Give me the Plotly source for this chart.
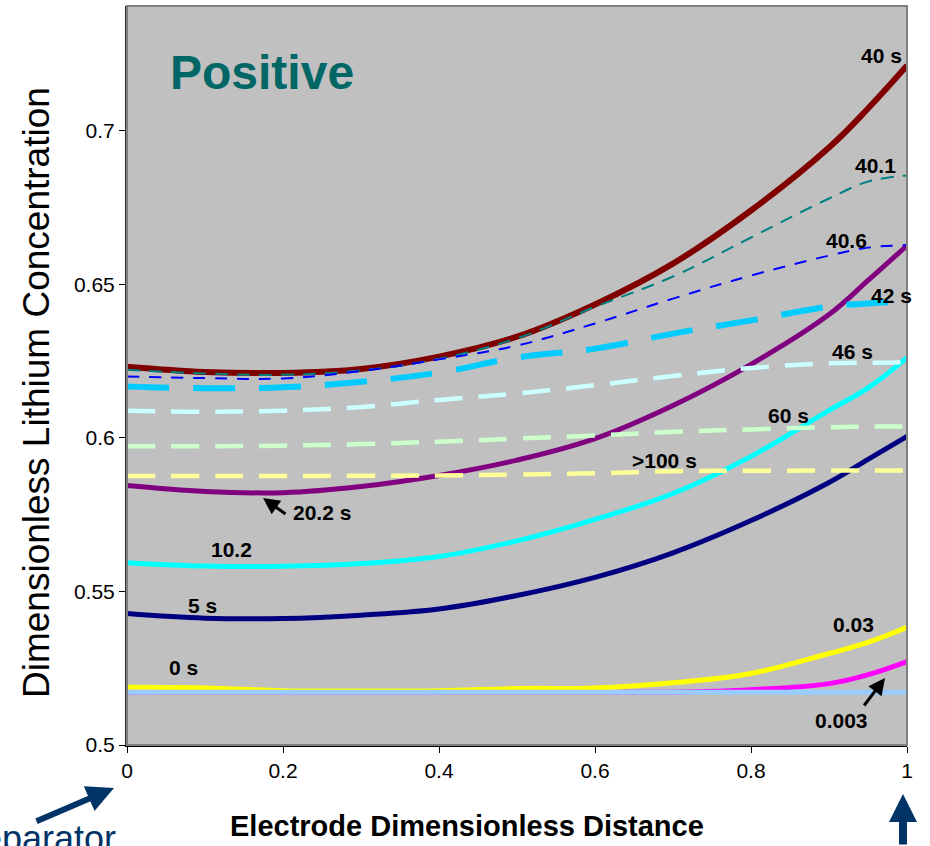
import plotly.graph_objects as go

# ---------------- data ----------------
X = [0, 0.1, 0.2, 0.3, 0.4, 0.5, 0.6, 0.7, 0.8, 0.9, 0.95, 1.0]

s0_003 = [0.5172, 0.5172, 0.5172, 0.5172, 0.5172, 0.5172, 0.5172, 0.5172, 0.5180, 0.5200, 0.5229, 0.5272]
s0_03 = [0.5188, 0.5186, 0.5177, 0.5176, 0.5177, 0.5184, 0.5186, 0.5203, 0.5233, 0.5298, 0.5334, 0.5383]
s5 = [0.5428, 0.5413, 0.5412, 0.5423, 0.5443, 0.5487, 0.5546, 0.5626, 0.5731, 0.5855, 0.5930, 0.6005]
s10_2 = [0.5594, 0.5583, 0.5582, 0.5591, 0.5614, 0.5665, 0.5735, 0.5819, 0.5940, 0.6090, 0.6163, 0.6262]
s20_2 = [0.5845, 0.5826, 0.5822, 0.5842, 0.5878, 0.5928, 0.5998, 0.6106, 0.6240, 0.6402, 0.6513, 0.6627]
s40 = [0.6232, 0.6215, 0.6212, 0.6225, 0.6265, 0.6330, 0.6435, 0.6568, 0.6741, 0.6946, 0.7073, 0.7213]
s40_1 = [0.6222, 0.6210, 0.6206, 0.6220, 0.6258, 0.6325, 0.6427, 0.6526, 0.6653, 0.6780, 0.6835, 0.6855]
s40_6 = [0.6200, 0.6195, 0.6194, 0.6218, 0.6256, 0.6301, 0.6373, 0.6454, 0.6529, 0.6594, 0.6620, 0.6628]
s42 = [0.6168, 0.6162, 0.6165, 0.6183, 0.6213, 0.6262, 0.6291, 0.6340, 0.6383, 0.6428, 0.6438, 0.6445]
s46 = [0.6089, 0.6085, 0.6089, 0.6101, 0.6124, 0.6145, 0.6172, 0.6202, 0.6228, 0.6243, 0.6245, 0.6246]
s60 = [0.5973, 0.5973, 0.5975, 0.5980, 0.5988, 0.5998, 0.6008, 0.6020, 0.6028, 0.6035, 0.6037, 0.6037]
s100 = [0.5876, 0.5876, 0.5876, 0.5877, 0.5878, 0.5881, 0.5885, 0.5892, 0.5893, 0.5894, 0.5894, 0.5894]
s0 = [0.5172, 0.5172, 0.5172, 0.5172, 0.5172, 0.5172, 0.5172, 0.5172, 0.5172, 0.5172, 0.5172, 0.5172]

x_ticks = [0, 0.2, 0.4, 0.6, 0.8, 1]
x_tick_labels = ["0", "0.2", "0.4", "0.6", "0.8", "1"]
y_ticks = [0.5, 0.55, 0.6, 0.65, 0.7]
y_tick_labels = ["0.5", "0.55", "0.6", "0.65", "0.7"]

# series: (name, values, colour, width, dash)
series = [
    ("0.003 s", s0_003, "#FF00FF", 5, "solid"),
    ("0.03 s", s0_03, "#FFFF00", 5, "solid"),
    ("5 s", s5, "#000080", 5, "solid"),
    ("10.2 s", s10_2, "#00FFFF", 5, "solid"),
    ("20.2 s", s20_2, "#800080", 5, "solid"),
    (">100 s", s100, "#FFFF99", 4.5, "28px,16px"),
    ("60 s", s60, "#CCFFCC", 4.5, "28px,16px"),
    ("46 s", s46, "#CCFFFF", 4.5, "28px,16px"),
    ("42 s", s42, "#00CCFF", 6, "42px,24px"),
    ("40 s", s40, "#800000", 6, "solid"),
    ("40.1 s", s40_1, "#008080", 2, "13px,9px"),
    ("40.6 s", s40_6, "#0000FF", 2, "12px,10px"),
    ("0 s", s0, "#99CCFF", 5, "solid"),
]

fig = go.Figure()
for name, vals, col, w, dash in series:
    fig.add_trace(go.Scatter(
        x=X, y=vals, mode="lines", name=name,
        line=dict(color=col, width=w, dash=dash, shape="spline", smoothing=1.1),
        showlegend=False,
    ))

# curve labels (data coords)
labels = [
    ("40 s", 0.9667, 0.7246),
    ("40.1", 0.959, 0.6886),
    ("40.6", 0.9218, 0.6642),
    ("42 s", 0.9795, 0.6463),
    ("46 s", 0.9295, 0.6283),
    ("60 s", 0.8487, 0.6072),
    (">100 s", 0.6897, 0.5928),
    ("20.2 s", 0.25, 0.5756),
    ("10.2", 0.1346, 0.5638),
    ("5 s", 0.0974, 0.5456),
    ("0 s", 0.0718, 0.5251),
    ("0.03", 0.9308, 0.5391),
    ("0.003", 0.9154, 0.5081),
]

FONT = "Liberation Sans, Arial"
ann = []
for t, lx, ly in labels:
    ann.append(dict(x=lx, y=ly, xref="x", yref="y", text="<b>%s</b>" % t,
                    showarrow=False, xanchor="center", yanchor="middle",
                    font=dict(size=21, color="black", family=FONT)))

L, T, W, H = 127, 6, 780, 739


def px(xp):
    return (xp - L) / W


def py(yp):
    return (T + H - yp) / H


# arrows
ann.append(dict(x=px(263), y=py(498), xref="paper", yref="paper", text="", showarrow=True,
                ax=24, ay=17, arrowhead=2, arrowsize=1.1, arrowwidth=3, arrowcolor="black"))
ann.append(dict(x=px(885), y=py(678), xref="paper", yref="paper", text="", showarrow=True,
                ax=-22, ay=29, arrowhead=2, arrowsize=1.1, arrowwidth=3, arrowcolor="black"))
ann.append(dict(x=px(114), y=py(788), xref="paper", yref="paper", text="", showarrow=True,
                ax=-79, ay=34, arrowhead=2, arrowsize=0.9, arrowwidth=6, arrowcolor="#003366"))
ann.append(dict(x=px(903), y=py(794), xref="paper", yref="paper", text="", showarrow=True,
                ax=0, ay=70, arrowhead=2, arrowsize=0.7, arrowwidth=8, arrowcolor="#003366"))

# texts
ann.append(dict(x=px(168), y=py(73), xref="paper", yref="paper", text="<b>Positive</b>",
                showarrow=False, xanchor="left", yanchor="middle",
                font=dict(size=48, color="#006666", family=FONT)))
ann.append(dict(x=px(467), y=py(826), xref="paper", yref="paper",
                text="<b>Electrode Dimensionless Distance</b>",
                showarrow=False, xanchor="center", yanchor="middle",
                font=dict(size=29, color="black", family=FONT)))
ann.append(dict(x=px(36), y=py(393), xref="paper", yref="paper",
                text="Dimensionless Lithium Concentration", textangle=-90,
                showarrow=False, xanchor="center", yanchor="middle",
                font=dict(size=37, color="black", family=FONT)))
ann.append(dict(x=px(-44), y=py(838), xref="paper", yref="paper",
                text="Separator", showarrow=False, xanchor="left", yanchor="middle",
                font=dict(size=36, color="#003366", family=FONT)))

fig.update_layout(
    width=930, height=846,
    margin=dict(l=L, r=930 - L - W, t=T, b=846 - T - H),
    paper_bgcolor="white", plot_bgcolor="#C0C0C0",
    font=dict(family=FONT, size=21, color="black"),
    annotations=ann,
    shapes=[dict(type="rect", xref="paper", yref="paper", x0=0, x1=1, y0=0, y1=1,
                 line=dict(color="#808080", width=2), layer="above")],
)
fig.update_xaxes(range=[0, 1], tickvals=x_ticks, ticktext=x_tick_labels, ticks="outside",
                 ticklen=6, tickcolor="black", showgrid=False, zeroline=False,
                 showline=True, linecolor="black", linewidth=2,
                 tickfont=dict(size=21, color="black"))
fig.update_yaxes(range=[0.5, 0.7407], tickvals=y_ticks, ticktext=y_tick_labels, ticks="outside",
                 ticklen=6, tickcolor="black", showgrid=False, zeroline=False,
                 showline=True, linecolor="#303030", linewidth=2,
                 tickfont=dict(size=21, color="black"))

fig.write_html("out.html", config={"displayModeBar": False},
               post_script="document.body.style.margin='0';document.body.style.overflow='hidden';")
